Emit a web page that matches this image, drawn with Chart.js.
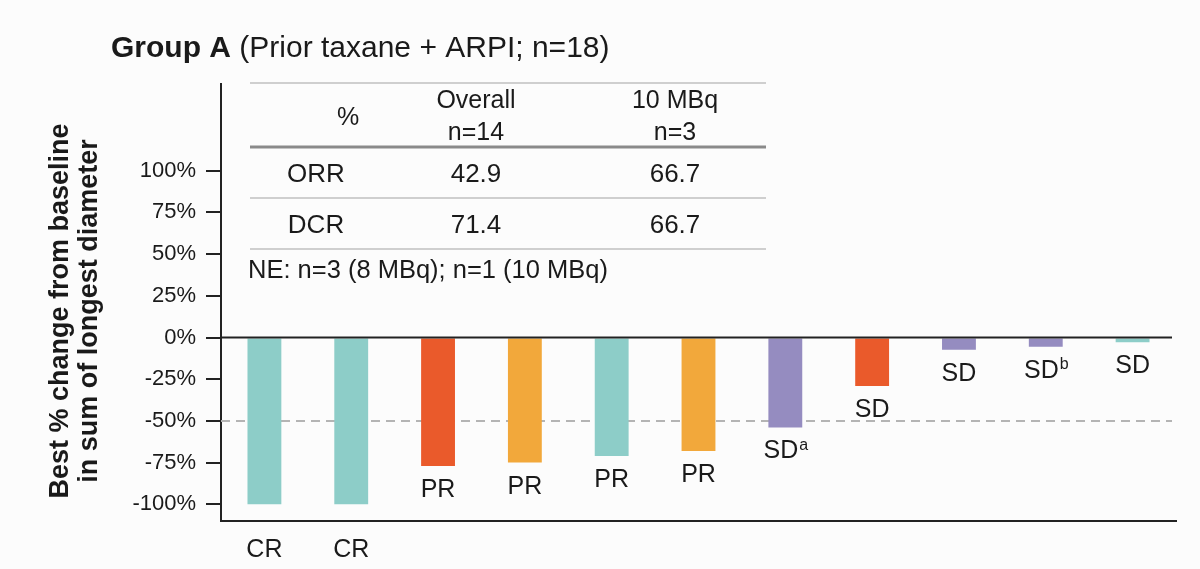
<!DOCTYPE html>
<html>
<head>
<meta charset="utf-8">
<script src="https://cdn.jsdelivr.net/npm/chart.js@4"></script>
<style>
  html, body { margin: 0; padding: 0; background: #fcfcfc; }
  canvas { display: block; }
</style>
</head>
<body>
<canvas id="chart" width="1200" height="569"></canvas>
<script>
// response category under each bar, with footnote markers
const categories = ['CR', 'CR', 'PR', 'PR', 'PR', 'PR', 'SD', 'SD', 'SD', 'SD', 'SD'];
const footnotes = ['', '', '', '', '', '', 'a', '', '', 'b', ''];
// best % change from baseline
const changes = [-100, -100, -77, -75, -71, -68, -54, -29, -7.4, -5.6, -2.8];
const groups = ['teal', 'teal', 'red', 'orange', 'teal', 'orange', 'purple', 'red', 'purple', 'purple', 'teal'];
const tickValues = [100, 75, 50, 25, 0, -25, -50, -75, -100];

// inset table
const tableCols = ['%', 'Overall\nn=14', '10 MBq\nn=3'];
const tableRows = ['ORR', 'DCR'];
const overallPct = ['42.9', '71.4'];
const mbq10Pct = ['66.7', '66.7'];
const tableNote = 'NE: n=3 (8 MBq); n=1 (10 MBq)';

const COLORS = {
  teal: '#8dcdc8',
  red: '#ea5a2b',
  orange: '#f2a83b',
  purple: '#958cc0'
};
const FONT = '"Liberation Sans", Arial, sans-serif';
const INK = '#1a1a1a';

const extras = {
  id: 'extras',
  beforeDatasetsDraw(chart) {
    const { ctx, chartArea, scales } = chart;
    const y50 = scales.y.getPixelForValue(-50);
    ctx.save();
    ctx.strokeStyle = '#b4b4b4';
    ctx.lineWidth = 2;
    ctx.setLineDash([9, 6]);
    ctx.beginPath();
    ctx.moveTo(chartArea.left, y50);
    ctx.lineTo(chartArea.right - 4, y50);
    ctx.stroke();
    ctx.restore();
  },
  afterDatasetsDraw(chart) {
    const { ctx, chartArea, scales } = chart;
    const y0 = scales.y.getPixelForValue(0);
    ctx.save();
    ctx.strokeStyle = '#222';
    ctx.lineWidth = 2;
    ctx.beginPath();
    ctx.moveTo(chartArea.left, y0);
    ctx.lineTo(chartArea.right - 4, y0);
    ctx.stroke();

    // bar labels
    const meta = chart.getDatasetMeta(0);
    ctx.fillStyle = INK;
    ctx.textBaseline = 'middle';
    meta.data.forEach((bar, i) => {
      const main = categories[i];
      const sup = footnotes[i];
      const y = changes[i] <= -100 ? chartArea.bottom + 29 : bar.y + 24;
      ctx.font = '25px ' + FONT;
      const w = ctx.measureText(main).width;
      ctx.font = '16px ' + FONT;
      const sw = sup ? ctx.measureText(sup).width : 0;
      const x0 = bar.x - (w + sw) / 2;
      ctx.textAlign = 'left';
      ctx.font = '25px ' + FONT;
      ctx.fillText(main, x0, y);
      if (sup) {
        ctx.font = '16px ' + FONT;
        ctx.fillText(sup, x0 + w + 1, y - 6);
      }
    });

    // title
    ctx.textAlign = 'left';
    ctx.textBaseline = 'alphabetic';
    ctx.font = 'bold 30px ' + FONT;
    const t1 = 'Group A';
    ctx.fillText(t1, 111, 57);
    const tw = ctx.measureText(t1).width;
    ctx.font = '30px ' + FONT;
    ctx.fillText(' (Prior taxane + ARPI; n=18)', 111 + tw, 57);

    // y axis title
    ctx.save();
    ctx.translate(0, 311);
    ctx.rotate(-Math.PI / 2);
    ctx.textAlign = 'center';
    ctx.textBaseline = 'middle';
    ctx.font = 'bold 27px ' + FONT;
    ctx.fillText('Best % change from baseline', 0, 61);
    ctx.fillText('in sum of longest diameter', 0, 90);
    ctx.restore();

    // inset table
    const left = 250, right = 766;
    const colX = [348, 476, 675];
    [[83, '#cfcfcf', 2], [147, '#8a8a8a', 3], [198, '#cfcfcf', 2], [249, '#cfcfcf', 2]].forEach(([ly, c, lw]) => {
      ctx.strokeStyle = c;
      ctx.lineWidth = lw;
      ctx.beginPath();
      ctx.moveTo(left, ly);
      ctx.lineTo(right, ly);
      ctx.stroke();
    });
    ctx.font = '25px ' + FONT;
    ctx.textAlign = 'center';
    ctx.textBaseline = 'middle';
    tableCols.forEach((c, j) => {
      const lines = c.split('\n');
      if (lines.length === 1) {
        ctx.fillText(lines[0], colX[j], 118);
      } else {
        ctx.fillText(lines[0], colX[j], 101);
        ctx.fillText(lines[1], colX[j], 133);
      }
    });
    ctx.font = '26px ' + FONT;
    tableRows.forEach((r, k) => {
      const ry = 175 + k * 51;
      ctx.fillText(r, 316, ry);
      ctx.fillText(overallPct[k], colX[1], ry);
      ctx.fillText(mbq10Pct[k], colX[2], ry);
    });
    ctx.font = '25.5px ' + FONT;
    ctx.textAlign = 'left';
    ctx.fillText(tableNote, 248, 271);
    ctx.restore();
  }
};

new Chart(document.getElementById('chart').getContext('2d'), {
  type: 'bar',
  data: {
    labels: categories,
    datasets: [{
      data: changes,
      backgroundColor: groups.map(g => COLORS[g]),
      borderWidth: 0,
      barPercentage: 0.39,
      categoryPercentage: 1
    }]
  },
  options: {
    responsive: false,
    animation: false,
    layout: { padding: { top: 84, right: 24, left: 0, bottom: 0 } },
    plugins: {
      legend: { display: false },
      tooltip: { enabled: false },
      title: { display: false }
    },
    scales: {
      x: {
        grid: { display: false },
        border: { display: true, color: '#222', width: 2 },
        ticks: { display: false },
        afterFit(scale) { scale.height = 48; }
      },
      y: {
        min: -110,
        max: 152,
        afterBuildTicks(scale) { scale.ticks = tickValues.map(v => ({ value: v })); },
        afterFit(scale) { scale.width = 221; },
        grid: {
          drawOnChartArea: false,
          drawTicks: true,
          tickLength: 15,
          color: '#222',
          lineWidth: 2
        },
        border: { display: true, color: '#222', width: 2 },
        ticks: {
          color: INK,
          padding: 10,
          font: { family: FONT, size: 22 },
          callback: v => v + '%'
        }
      }
    }
  },
  plugins: [extras]
});
</script>
</body>
</html>
